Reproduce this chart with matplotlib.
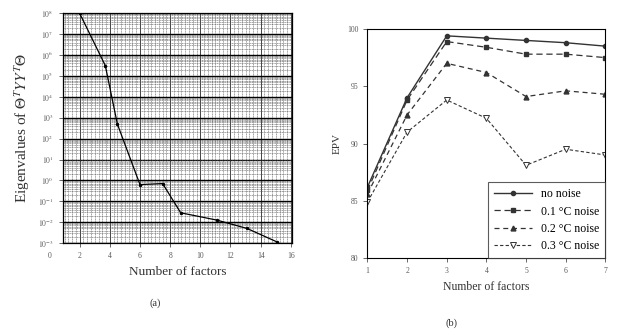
import matplotlib

matplotlib.use("Agg")
import matplotlib.pyplot as plt
import matplotlib.transforms as mtransforms
import numpy as np
from matplotlib.ticker import FixedLocator, LogLocator, MultipleLocator, NullFormatter

plt.rcParams["font.family"] = ["Liberation Serif", "DejaVu Serif"]
plt.rcParams["mathtext.fontset"] = "stix"

# (a) eigenvalue decay
eig_factors = [2, 3.7, 4.5, 6, 7.5, 8.7, 11.1, 13.1, 15.1]
eig_values = [1e8, 10**5.5, 10**2.7, 10**-0.2, 10**-0.15, 10**-1.55, 10**-1.9, 10**-2.3, 10**-2.95]
eig_exponents = list(range(8, -4, -1))
eig_xticks = [2, 4, 6, 8, 10, 12, 14, 16]

# (b) EPV versus number of factors
n_factors = [1, 2, 3, 4, 5, 6, 7]
epv_no_noise = [86.2, 94.0, 99.4, 99.2, 99.0, 98.8, 98.5]
epv_noise_01 = [85.9, 93.8, 98.9, 98.4, 97.8, 97.8, 97.5]
epv_noise_02 = [85.6, 92.5, 97.0, 96.2, 94.1, 94.6, 94.3]
epv_noise_03 = [84.9, 91.0, 93.8, 92.2, 88.1, 89.5, 89.0]
series_labels = ["no noise", "0.1 \u00b0C noise", "0.2 \u00b0C noise", "0.3 \u00b0C noise"]

fig = plt.figure(figsize=(6.26, 3.33), dpi=100)
tick_kw = dict(labelsize=5.5, length=3, width=0.6, colors="0.3", labelcolor="0.35")

# ---- panel (a): graph-paper log plot
ax1 = fig.add_axes([0.1, 0.27, 0.367, 0.69])
ax1.set_yscale("log")
ax1.plot(eig_factors, eig_values, color="black", lw=0.9, marker="o", ms=1.5)
ax1.set_xlim(0.87, 16.1)
ax1.set_ylim(10.0 ** eig_exponents[-1], 10.0 ** eig_exponents[0])
ax1.set_xticks(eig_xticks)
ax1.xaxis.set_minor_locator(MultipleLocator(0.25))
ax1.yaxis.set_major_locator(FixedLocator([10.0 ** e for e in eig_exponents]))
ax1.yaxis.set_minor_locator(LogLocator(base=10, subs=np.arange(2, 10), numticks=50))
ax1.yaxis.set_minor_formatter(NullFormatter())
ax1.set_yticklabels([f"$10^{{{e}}}$" for e in eig_exponents])
ax1.yaxis.grid(which="major", color="black", lw=1.0)
ax1.xaxis.grid(which="major", color="0.15", lw=0.6)
ax1.grid(which="minor", color="0.35", lw=0.4, linestyle=(0, (2, 1)))
ax1.tick_params(which="major", **tick_kw)
ax1.tick_params(which="minor", length=0)
# the "0" label sits left of the frame in the original
zero_tr = mtransforms.offset_copy(ax1.get_xaxis_transform(), fig=fig, y=-6.5, units="points")
ax1.text(0, 0, "0", transform=zero_tr, ha="center", va="top",
         fontsize=5.5, color="0.35", clip_on=False)
ax1.set_xlabel("Number of factors", fontsize=9.5, color="0.2")
ax1.set_ylabel(r"Eigenvalues of $\Theta^{T}YY^{T}\Theta$", fontsize=11, color="0.2")
for spine in ax1.spines.values():
    spine.set_linewidth(0.9)

# ---- panel (b): EPV curves
ax2 = fig.add_axes([0.587, 0.225, 0.38, 0.688])
ax2.plot(n_factors, epv_no_noise, color="0.2", lw=1.0, ls="-",
         marker="o", ms=3, label=series_labels[0])
ax2.plot(n_factors, epv_noise_01, color="0.2", lw=0.9, ls=(0, (5, 3)),
         marker="s", ms=3.5, label=series_labels[1])
ax2.plot(n_factors, epv_noise_02, color="0.2", lw=0.9, ls=(0, (4, 3)),
         marker="^", ms=3.5, label=series_labels[2])
ax2.plot(n_factors, epv_noise_03, color="0.2", lw=0.8, ls=(0, (3, 2)),
         marker="v", ms=4, mfc="white", mew=0.7, label=series_labels[3])
ax2.set_xlim(1, 7)
ax2.set_ylim(80, 100)
ax2.set_xticks(n_factors)
ax2.set_yticks([80, 85, 90, 95, 100])
ax2.tick_params(**tick_kw)
ax2.set_xlabel("Number of factors", fontsize=8.5, color="0.2")
ax2.set_ylabel("EPV", fontsize=8, color="0.2")
for spine in ax2.spines.values():
    spine.set_linewidth(0.8)
leg = ax2.legend(loc="lower right", fontsize=8.5, frameon=True, fancybox=False,
                 edgecolor="0.2", borderaxespad=0, handlelength=3.2,
                 labelspacing=0.45, borderpad=0.5)
leg.get_frame().set_linewidth(0.8)

fig.text(0.248, 0.09, "(a)", ha="center", va="center", fontsize=7.5, color="0.2")
fig.text(0.722, 0.03, "(b)", ha="center", va="center", fontsize=7.5, color="0.2")

fig.savefig("out.png", dpi=100)
